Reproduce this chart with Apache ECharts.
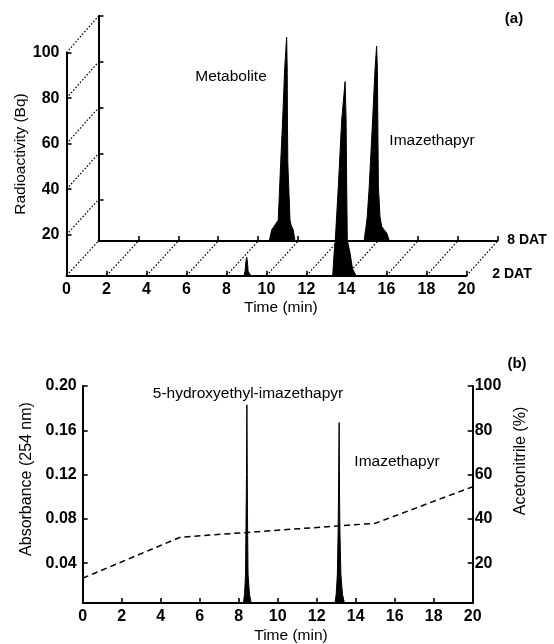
<!DOCTYPE html>
<html>
<head>
<meta charset="utf-8">
<script src="https://cdn.jsdelivr.net/npm/echarts@6/dist/echarts.min.js"></script>
<style>
html,body{margin:0;padding:0;background:#fff;}
#chart{width:554px;height:644px;}
</style>
</head>
<body>
<div id="chart"></div>
<script>
// ---------- data ----------
const timeTicks = [0, 2, 4, 6, 8, 10, 12, 14, 16, 18, 20];
const bqTicks = [20, 40, 60, 80, 100];
const absTicks = [0.04, 0.08, 0.12, 0.16, 0.20];
const acnTicks = [20, 40, 60, 80, 100];

// (a) 8 DAT trace (back)
const dat8Time = [0, 8.56, 8.68, 8.85, 9.01, 9.13, 9.23, 9.33, 9.43, 9.46, 9.47, 9.49, 9.6, 9.65, 9.76, 9.85,
                  13.32, 13.36, 13.41, 13.47, 13.57, 13.74, 13.86, 13.94, 13.98, 14.0, 14.03, 14.11, 14.2, 14.45, 14.58, 20];
const dat8Bq   = [2, 2, 6.8, 9, 11.1, 35.8, 54.7, 76.5, 90.7, 76.5, 54.7, 35.8, 11.1, 9, 6.8, 2,
                  2, 5.4, 8.2, 12.6, 25.6, 54.7, 76.5, 86.9, 76.5, 54.7, 25.6, 12.6, 8.2, 5.4, 2, 2];

// (a) 2 DAT trace (front)
const dat2Time = [0, 8.87, 8.93, 8.98, 9.01, 9.05, 9.08, 9.21,
                  13.31, 13.38, 13.44, 13.59, 13.76, 13.93, 13.98, 14.01, 14.04, 14.18, 14.3, 14.48, 20];
const dat2Bq   = [2, 2, 4, 9, 10.1, 8, 4, 2,
                  2, 11.8, 17.7, 41.1, 70.4, 87.3, 70.4, 41.1, 17.7, 11.8, 5, 2, 2];

// (b) UV absorbance trace
const absTime  = [0, 8.24, 8.3, 8.35, 8.38, 8.40, 8.42, 8.44, 8.45, 8.48, 8.55, 8.64,
                  12.94, 13.0, 13.06, 13.1, 13.12, 13.15, 13.17, 13.19, 13.24, 13.32, 13.42, 20];
const absValue = [0.004, 0.004, 0.012, 0.03, 0.085, 0.12, 0.183, 0.12, 0.085, 0.03, 0.012, 0.004,
                  0.004, 0.012, 0.03, 0.07, 0.105, 0.167, 0.105, 0.07, 0.03, 0.012, 0.004, 0.004];

// (b) acetonitrile gradient
const acnTime    = [0, 5, 15, 20];
const acnPercent = [13.2, 31.7, 38, 54.5];

// ---------- helpers ----------
const zip = (a, b) => a.map((v, i) => [v, b[i]]);
const FONT = "'Liberation Sans', Arial, Helvetica, sans-serif";
const BLACK = '#000';

const lineAxis = { show: true, onZero: false, lineStyle: { color: BLACK, width: 2 } };
const tickStyle = { color: BLACK, width: 1.6 };
const tickFont = { color: BLACK, fontFamily: FONT, fontSize: 16, fontWeight: 'bold' };

function xAxisDef(gridIndex, showLabel) {
  return {
    type: 'value', gridIndex: gridIndex, min: 0, max: 20, interval: 2,
    axisLine: lineAxis,
    axisTick: { show: true, inside: true, length: 5, lineStyle: tickStyle },
    axisLabel: Object.assign({ show: showLabel, margin: 6 }, tickFont),
    splitLine: { show: false }
  };
}
function yAxisDef(gridIndex, min, max, ticks, showLabel, extra) {
  return Object.assign({
    type: 'value', gridIndex: gridIndex, min: min, max: max,
    axisLine: lineAxis,
    axisTick: { show: true, inside: true, length: 5, lineStyle: tickStyle, customValues: ticks },
    axisLabel: Object.assign({ show: showLabel, margin: 7, customValues: ticks }, tickFont),
    splitLine: { show: false }
  }, extra || {});
}
function traceSeries(xi, yi, data, z) {
  return {
    type: 'line', xAxisIndex: xi, yAxisIndex: yi, data: data,
    symbol: 'none', silent: true, z: z,
    lineStyle: { color: BLACK, width: 1 },
    areaStyle: { color: BLACK, opacity: 1, origin: 'start' }
  };
}

const chart = echarts.init(document.getElementById('chart'), null, { renderer: 'canvas' });

chart.setOption({
  animation: false,
  backgroundColor: '#fff',
  grid: [
    { left: 98.5, top: 16, width: 399, height: 225, containLabel: false, outerBoundsMode: 'none' },  // back (8 DAT)
    { left: 66.5, top: 52.7, width: 400, height: 223, containLabel: false, outerBoundsMode: 'none' }, // front (2 DAT)
    { left: 82.7, top: 386, width: 390, height: 217, containLabel: false, outerBoundsMode: 'none' }   // panel (b)
  ],
  xAxis: [
    xAxisDef(0, false),
    xAxisDef(1, true),
    xAxisDef(2, true)
  ],
  yAxis: [
    yAxisDef(0, 2, 100, bqTicks, false),
    yAxisDef(1, 2, 100, bqTicks, true),
    yAxisDef(2, 0.004, 0.2, absTicks, true, {
      axisLabel: Object.assign({ show: true, margin: 6, customValues: absTicks,
        formatter: v => v.toFixed(2) }, tickFont)
    }),
    yAxisDef(2, 2, 100, acnTicks, true, {
      position: 'right',
      axisLabel: Object.assign({ show: true, margin: 2, customValues: acnTicks }, tickFont)
    })
  ],
  series: [
    traceSeries(0, 0, zip(dat8Time, dat8Bq), 3),
    traceSeries(1, 1, zip(dat2Time, dat2Bq), 4),
    traceSeries(2, 2, zip(absTime, absValue), 3),
    {
      type: 'line', xAxisIndex: 2, yAxisIndex: 3, data: zip(acnTime, acnPercent),
      symbol: 'none', silent: true, z: 4,
      lineStyle: { color: BLACK, width: 1.5, type: [6, 4] }
    }
  ]
});

// ---------- pseudo-3D connectors (front axis <-> back axis) ----------
const graphics = [];
function connector(frontVal, backVal) {
  const p1 = chart.convertToPixel({ seriesIndex: 1 }, frontVal);
  const p2 = chart.convertToPixel({ seriesIndex: 0 }, backVal);
  graphics.push({
    type: 'line', silent: true, z: 1,
    shape: { x1: p1[0], y1: p1[1], x2: p2[0], y2: p2[1] },
    style: { stroke: BLACK, lineWidth: 1.2, lineDash: [1.6, 1.8] }
  });
}
timeTicks.forEach(t => connector([t, 2], [t, 2]));
bqTicks.forEach(v => connector([0, v], [0, v]));

// ---------- texts ----------
function txt(text, x, y, size, weight, rot) {
  graphics.push({
    type: 'text', x: x, y: y, rotation: rot || 0, silent: true, z: 10,
    style: {
      text: text, fill: BLACK,
      font: (weight ? weight + ' ' : '') + size + 'px ' + FONT,
      align: 'center', verticalAlign: 'middle',
      textAlign: 'center', textVerticalAlign: 'middle'
    }
  });
}
txt('(a)', 514, 19, 15, 'bold');
txt('Metabolite', 231, 77, 15.5);
txt('Imazethapyr', 432, 141, 15.5);
txt('8 DAT', 527, 240, 14, 'bold');
txt('2 DAT', 512, 274, 14, 'bold');
txt('Time (min)', 281, 308, 15.5);
txt('Radioactivity (Bq)', 21, 154, 15.5, null, Math.PI / 2);

txt('(b)', 517, 364, 15, 'bold');
txt('5-hydroxyethyl-imazethapyr', 248, 394, 15.5);
txt('Imazethapyr', 397, 462, 15.5);
txt('Absorbance (254 nm)', 27, 479, 16, null, Math.PI / 2);
txt('Acetonitrile (%)', 521, 461, 16, null, Math.PI / 2);
txt('Time (min)', 291, 636, 15.5);

chart.setOption({ graphic: { elements: graphics } });
</script>
</body>
</html>
